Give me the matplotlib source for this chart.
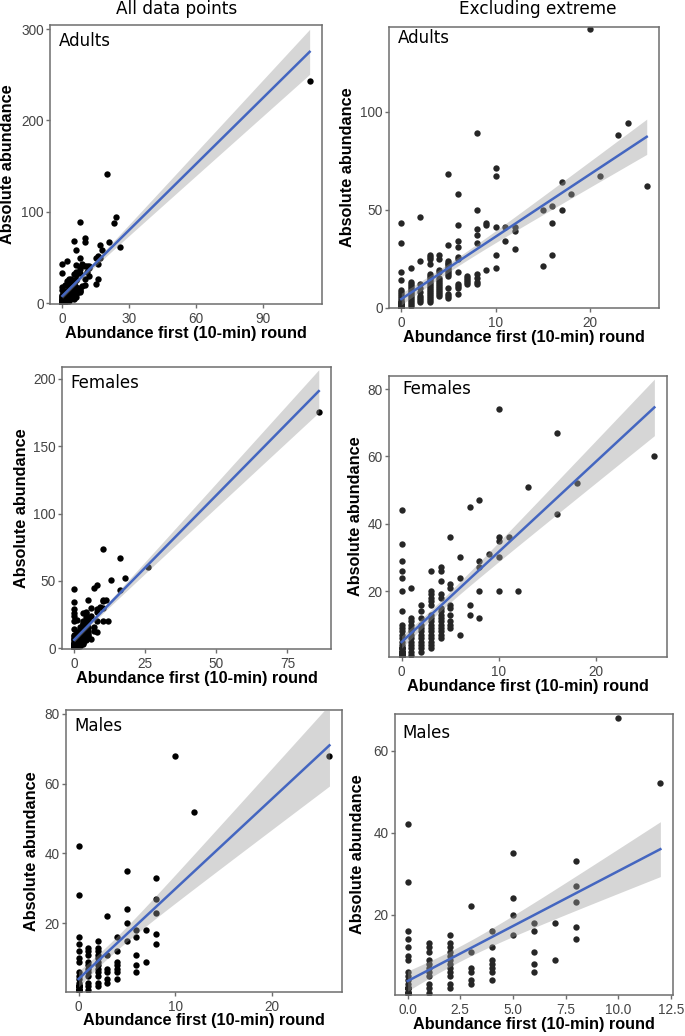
import numpy as np
import matplotlib.pyplot as plt

# ---- data (columns of points per x value) ----
# Adults, excluding the extreme site
adults_x = [0, 1, 2, 3, 4, 5, 6, 7, 8, 9, 10, 11, 12, 15, 16, 17, 18, 20, 21, 23, 24, 26]
adults_y = [
    [43, 33, 18, 14, 9, 8, 7, 6, 5, 4, 3, 2, 1, 0,
     0, 0, 0, 0, 0, 0, 1, 1, 1, 1, 1, 2, 2, 2, 2, 3, 3, 0, 1, 2],
    [20, 13, 12, 11, 10, 9, 8, 7, 6, 5, 4, 3, 2, 1],
    [46, 24, 12, 10, 8, 6, 5, 4, 3],
    [27, 26, 25, 22, 17, 16, 15, 14, 13, 12, 11, 10, 9, 8, 7, 6, 5, 4, 3],
    [27, 25, 19, 18, 15, 14, 13, 12, 11, 10, 9, 8, 7, 6],
    [68, 32, 24, 23, 22, 21, 20, 19, 18, 17, 16, 10, 7, 6, 5],
    [58, 42, 34, 31, 26, 25, 18, 12, 11, 10, 7],
    [16, 15, 14, 13, 12],
    [89, 50, 40, 37, 33, 17, 15, 13, 12],
    [43, 42, 19],
    [71, 67, 41, 27, 20],
    [41, 34],
    [41, 39, 30],
    [50, 21],
    [52, 43, 27],
    [64, 50],
    [58],
    [142],
    [67],
    [88],
    [94],
    [62],
]
adults_extreme = (111, 243)

# Females, excluding the extreme site
females_x = [0, 1, 2, 3, 4, 5, 6, 7, 8, 9, 10, 11, 12, 13, 16, 18, 26]
females_y = [
    [44, 34, 29, 26, 24, 20, 14, 10, 9, 8, 7, 6, 5, 4, 3, 2, 1,
     1, 1, 1, 1, 1, 1, 1, 1, 1, 1, 2, 2, 2, 2, 2, 2, 2, 2, 1, 1,
     1, 1, 1, 1, 2, 2, 2, 3, 3, 3, 1, 1, 1, 1, 2, 2, 1, 1, 1, 2],
    [21, 12, 11, 10, 9, 8, 7, 6, 5, 4, 3, 2, 1],
    [16, 14, 12, 10, 9, 8, 7, 6, 5, 4, 3, 2],
    [26, 20, 19, 18, 17, 16, 13, 12, 11, 10, 9, 8, 7, 6, 5, 4, 3],
    [27, 26, 23, 19, 18, 15, 14, 13, 12, 11, 10, 9, 8, 7, 6],
    [36, 22, 21, 16, 15, 13, 11, 10, 9],
    [30, 24, 7],
    [45, 16, 13],
    [47, 29, 27, 20, 12],
    [31],
    [74, 36, 35, 30, 20],
    [36],
    [20],
    [51],
    [67, 43],
    [52],
    [60],
]
females_extreme = (86, 175)

# Males, excluding the extreme site
males_x = [0, 1, 2, 3, 4, 5, 6, 7, 8, 10, 12]
males_y = [
    [42, 28, 16, 14, 12, 10, 9, 6, 5, 4, 3, 2, 1,
     1, 1, 1, 1, 1, 1, 1, 1, 2, 2, 2, 2, 2, 1, 1, 1, 2, 2, 1, 1],
    [13, 12, 11, 9, 8, 7, 6, 5, 3, 2, 1],
    [15, 13, 12, 11, 10, 9, 8, 7, 6, 5, 3, 2],
    [22, 11, 7, 6, 4, 3],
    [16, 12, 9, 8, 7, 6, 4],
    [35, 24, 20, 15],
    [18, 16, 11, 8, 6],
    [18, 9],
    [33, 27, 23, 17, 14],
    [68],
    [52],
]
males_extreme = (26, 68)

groups = ["Adults", "Females", "Males"]
col_titles = ["All data points", "Excluding extreme"]
xlabel = "Abundance first (10-min) round"
ylabel = "Absolute abundance"


def flatten(xs, ys):
    px, py = [], []
    for xv, col in zip(xs, ys):
        for yv in col:
            px.append(xv)
            py.append(yv)
    return np.array(px, float), np.array(py, float)


def lm_band(x, y):
    # ordinary least squares with 95% confidence band (like geom_smooth(method="lm"))
    n = len(x)
    b, a = np.polyfit(x, y, 1)
    xs = np.linspace(x.min(), x.max(), 100)
    yhat = a + b * xs
    resid = y - (a + b * x)
    s = np.sqrt(np.sum(resid ** 2) / (n - 2))
    sxx = np.sum((x - x.mean()) ** 2)
    se = s * np.sqrt(1.0 / n + (xs - x.mean()) ** 2 / sxx)
    z = 1.96
    t = z + (z ** 3 + z) / (4 * (n - 2))
    return xs, yhat, yhat - t * se, yhat + t * se


data = {}
for name, xs, ys, ext in [("Adults", adults_x, adults_y, adults_extreme),
                          ("Females", females_x, females_y, females_extreme),
                          ("Males", males_x, males_y, males_extreme)]:
    ex, ey = flatten(xs, ys)
    ax_all = np.append(ex, ext[0])
    ay_all = np.append(ey, ext[1])
    data[name] = [(ax_all, ay_all), (ex, ey)]

W, H = 685, 1036
fig = plt.figure(figsize=(W / 100, H / 100), dpi=100)

# panel frames in pixels: left, right, top, bottom
frames = {
    ("Adults", 0): (50, 322, 25, 304),
    ("Adults", 1): (389, 659, 27, 308),
    ("Females", 0): (62, 331, 367, 649),
    ("Females", 1): (389, 667, 376, 657),
    ("Males", 0): (66, 342, 710, 992),
    ("Males", 1): (395, 673, 714, 995),
}
ylims = {
    ("Adults", 0): (-0.8, 304.5), ("Adults", 1): (-0.2, 143.2),
    ("Females", 0): (-0.5, 208.7), ("Females", 1): (0.4, 83.9),
    ("Males", 0): (0.3, 81.1), ("Males", 1): (0.4, 68.9),
}
xticks = {
    ("Adults", 0): [0, 30, 60, 90], ("Adults", 1): [0, 10, 20],
    ("Females", 0): [0, 25, 50, 75], ("Females", 1): [0, 10, 20],
    ("Males", 0): [0, 10, 20], ("Males", 1): [0, 2.5, 5, 7.5, 10, 12.5],
}
yticks = {
    ("Adults", 0): [0, 100, 200, 300], ("Adults", 1): [0, 50, 100],
    ("Females", 0): [0, 50, 100, 150, 200], ("Females", 1): [20, 40, 60, 80],
    ("Males", 0): [20, 40, 60, 80], ("Males", 1): [20, 40, 60],
}
ylabel_x = {
    ("Adults", 0): 8, ("Adults", 1): 348, ("Females", 0): 21,
    ("Females", 1): 356, ("Males", 0): 32, ("Males", 1): 358,
}
tag_pos = {  # offset of panel tag from left frame / baseline below top frame
    ("Adults", 0): (9, 21), ("Adults", 1): (9, 16),
    ("Females", 0): (8, 21), ("Females", 1): (13, 18),
    ("Males", 0): (8, 21), ("Males", 1): (7, 24),
}

frame_col = "#6e6e6e"
text_col = "#444444"
sans = "Liberation Sans"

for name in groups:
    for c in range(2):
        l, r, t, b = frames[(name, c)]
        ax = fig.add_axes([l / W, 1 - b / H, (r - l) / W, (b - t) / H])
        x, y = data[name][c]
        pcol = "black" if c == 0 else "#262626"
        ax.scatter(x, y, s=21, color=pcol, linewidths=0, zorder=2)
        xs, yhat, lo, hi = lm_band(x, y)
        ax.fill_between(xs, lo, hi, color="#999999", alpha=0.4, linewidth=0, zorder=3)
        ax.plot(xs, yhat, color="#4466C0", lw=1.8, zorder=4)

        xr = x.max() - x.min()
        ax.set_xlim(x.min() - 0.05 * xr, x.max() + 0.05 * xr)
        ax.set_ylim(*ylims[(name, c)])
        ax.set_xticks(xticks[(name, c)])
        ax.set_yticks(yticks[(name, c)])
        if c == 1 and name == "Males":
            ax.set_xticklabels(["%.1f" % v for v in xticks[(name, c)]])

        for sp in ax.spines.values():
            sp.set_color(frame_col)
            sp.set_linewidth(1.1)
        ax.tick_params(axis="both", color=frame_col, length=3, width=1,
                       labelsize=9.8, labelcolor=text_col)
        ax.tick_params(axis="y", pad=1.5)
        ax.tick_params(axis="x", pad=2.5)
        for lab in ax.get_xticklabels() + ax.get_yticklabels():
            lab.set_family(sans)

        ax.set_xlabel(xlabel, fontsize=11.7, fontweight="bold", family=sans, color="black")
        ax.set_ylabel(ylabel, fontsize=11.7, fontweight="bold", family=sans, color="black")
        ax.xaxis.set_label_coords(0.5, -29 / (b - t))
        ax.xaxis.label.set_va("center")
        ax.yaxis.set_label_coords((ylabel_x[(name, c)] - l) / (r - l), 0.5)
        ax.yaxis.label.set_va("center")

        dx, dy = tag_pos[(name, c)]
        ax.text(dx / (r - l), 1 - dy / (b - t), name, transform=ax.transAxes,
                fontsize=12, family="DejaVu Sans", va="baseline", ha="left", color="black")

fig.text(177 / W, 1 - 14 / H, col_titles[0], ha="center", va="baseline",
         fontsize=12.2, family="DejaVu Sans")
fig.text(538 / W, 1 - 14 / H, col_titles[1], ha="center", va="baseline",
         fontsize=12.2, family="DejaVu Sans")

fig.savefig("out.png", dpi=100)
